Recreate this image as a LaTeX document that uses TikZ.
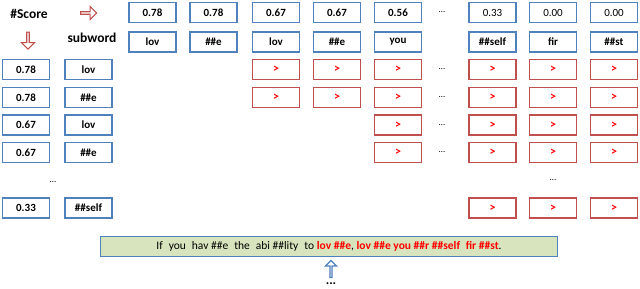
\documentclass[tikz,border=0pt]{standalone}
\usepackage{fontspec}
\setmainfont{Carlito}
\usetikzlibrary{shapes.arrows}
\definecolor{bl}{HTML}{4F81BD}
\definecolor{rd}{HTML}{C0504D}
\definecolor{gr}{HTML}{D7E4BD}
\begin{document}
\begin{tikzpicture}[x=1pt,y=-1pt,
  bbox/.style={draw=bl, line width=1.5pt, minimum width=47pt, minimum height=20pt, inner sep=0pt, font=\fontsize{11}{12}\selectfont\bfseries},
  nbox/.style={bbox, font=\fontsize{11}{12}\selectfont},
  rbox/.style={draw=rd, line width=1.5pt, minimum width=47pt, minimum height=20pt, inner sep=0pt, text=red, font=\fontsize{12}{12}\selectfont\bfseries},
  dots/.style={inner sep=0pt, font=\fontsize{9}{9}\selectfont},
  hdr/.style={inner sep=0pt, font=\fontsize{13.5}{14}\selectfont\bfseries},
  rarrow/.style={single arrow, draw=rd, line width=1.2pt, fill=white, inner sep=0pt, single arrow head extend=2.5pt, single arrow tip angle=90}
]
\useasboundingbox (0,0) rectangle (640,289);
% headers
\node[hdr] (score) at (29,14) {\#Score};
\node[hdr] (sub) at (92,38) {subword};
\node[rarrow, minimum height=16pt, minimum width=13pt] (ra) at (88,13) {};
\node[rarrow, shape border rotate=270, minimum height=17pt, minimum width=13pt] (da) at (28,40) {};
% top rows
\foreach \n/\x/\s/\w/\st in {1/152.5/0.78/lov/bbox, 2/213.5/0.78/\#\#e/bbox, 3/276/0.67/lov/bbox, 4/337/0.67/\#\#e/bbox, 5/398/0.56/you/bbox, 6/492.5/0.33/\#\#self/nbox, 7/553/0.00/fir/nbox, 8/614/0.00/\#\#st/nbox}{
  \node[\st] (t\n) at (\x,12.5) {\s};
  \node[bbox] (w\n) at (\x,42) {\w};
}
\node[dots] (tdots) at (442,12) {…};
% left columns
\foreach \n/\y/\s/\w in {1/69.5/0.78/lov, 2/97.5/0.78/\#\#e, 3/125/0.67/lov, 4/152.5/0.67/\#\#e, 5/208/0.33/\#\#self}{
  \node[bbox] (s\n) at (26,\y) {\s};
  \node[bbox] (v\n) at (88.5,\y) {\w};
}
\node[dots] (ldots) at (53,182) {…};
% red matrix
\foreach \r/\y in {1/69.5, 2/97.5}{
  \foreach \c/\x in {3/276, 4/337, 5/398, 6/492.5, 7/553, 8/614}{
    \node[rbox] (m\r\c) at (\x,\y) {>};
  }
  \node[dots] (md\r) at (442,\y) {…};
}
\foreach \r/\y in {3/125, 4/152.5}{
  \foreach \c/\x in {5/398, 6/492.5, 7/553, 8/614}{
    \node[rbox] (m\r\c) at (\x,\y) {>};
  }
  \node[dots] (md\r) at (442,\y) {…};
}
\foreach \c/\x in {6/492.5, 7/553, 8/614}{
  \node[rbox] (m5\c) at (\x,208) {>};
}
\node[dots] (mdv) at (553,180) {…};
% sentence
\node[draw=bl, fill=gr, line width=1.5pt, minimum width=457pt, minimum height=20pt, inner sep=0pt, font=\fontsize{11.5}{12}\selectfont] (sent) at (329,246.5)
 {If\hspace{6pt}you\hspace{6pt}hav \#\#e\hspace{6pt}the\hspace{6pt}abi \#\#lity\hspace{6pt}to {\color{red}\bfseries lov \#\#e}, {\color{red}\bfseries lov \#\#e you \#\#r \#\#self\hspace{3pt} fir \#\#st}.};
\node[single arrow, draw=bl, line width=1.2pt, fill=white, inner sep=0pt, single arrow head extend=2.5pt, single arrow tip angle=90, shape border rotate=90, minimum height=17pt, minimum width=11pt] (ua) at (331,269.5) {};
\node[inner sep=0pt, font=\fontsize{13}{13}\selectfont\bfseries] (bdots) at (331,284) {...};
\end{tikzpicture}
\end{document}
